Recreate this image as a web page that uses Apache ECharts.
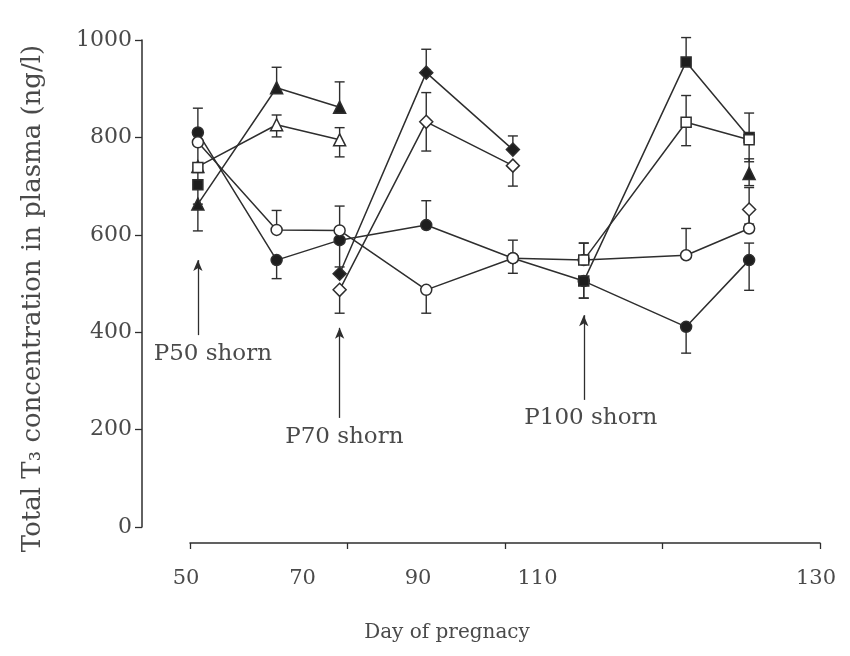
<!DOCTYPE html>
<html>
<head>
<meta charset="utf-8">
<script src="https://cdn.jsdelivr.net/npm/echarts@6/dist/echarts.min.js"></script>
<style>
  html, body { margin: 0; padding: 0; background: #ffffff; }
  #chart { width: 850px; height: 656px; }
</style>
</head>
<body>
<div id="chart"></div>
<script>
// Sampling days (day of pregnancy)
const days = [51, 61, 69, 80, 91, 100, 113, 121];

// Axis tick labels
const xTicks = [50, 70, 90, 110, 130];
const yTicks = [0, 200, 400, 600, 800, 1000];

// Mean total T3 concentration (ng/l) per group; null = not sampled / not connected
const filledCircle   = [810, 548, 589, 620, 552, 505, 411, 548];
const openCircle     = [790, 610, 609, 487, 552, 548, 558, 613];
const filledTriangle = [663, 902, 862, null, null, null, null, 726];
const openTriangle   = [740, 826, 795, null, null, null, null, null];
const filledDiamond  = [null, null, 520, 933, 775, null, null, null];
const openDiamond    = [null, null, 487, 832, 742, null, null, 652];
const filledSquare   = [703, null, null, null, null, 505, 955, 800];
const openSquare     = [738, null, null, null, null, 548, 831, 795];

// Standard error bars as [below, above]
const errFilledCircle   = [[0, 50], [38, 0], [55, 0], [0, 50], [31, 0], [35, 0], [54, 0], [62, 35]];
const errOpenCircle     = [[50, 0], [0, 40], [0, 50], [48, 0], [0, 37], [0, 35], [0, 55], [0, 40]];
const errFilledTriangle = [[55, 0], [0, 42], [0, 52], [0, 0], [0, 0], [0, 0], [0, 0], [25, 30]];
const errOpenTriangle   = [[0, 0], [25, 20], [35, 25], [0, 0], [0, 0], [0, 0], [0, 0], [0, 0]];
const errFilledDiamond  = [[0, 0], [0, 0], [0, 0], [0, 48], [0, 28], [0, 0], [0, 0], [0, 0]];
const errOpenDiamond    = [[0, 0], [0, 0], [48, 0], [60, 60], [42, 0], [0, 0], [0, 0], [30, 45]];
const errFilledSquare   = [[40, 0], [0, 0], [0, 0], [0, 0], [0, 0], [35, 0], [0, 50], [50, 0]];
const errOpenSquare     = [[35, 0], [0, 0], [0, 0], [0, 0], [0, 0], [0, 35], [48, 55], [0, 55]];

// Shearing events: label, arrow day, arrow from/to (ng/l), label anchor [day, ng/l]
const shearLabels = ['P50 shorn', 'P70 shorn', 'P100 shorn'];
const shearDays   = [51, 69, 100];
const shearArrow  = [[394, 548], [224, 409], [261, 435]];
const shearText   = [[52.9, 355], [69.6, 185], [100.9, 224]];

const INK = '#2e2e2e';
const TEXT = '#4a4a4a';
const FONT = '"DejaVu Serif", "Liberation Serif", serif';

const groups = [
  { name: 'filledCircle',   vals: filledCircle,   err: errFilledCircle,   symbol: 'circle',   size: 11, filled: true },
  { name: 'openCircle',     vals: openCircle,     err: errOpenCircle,     symbol: 'circle',   size: 11, filled: false },
  { name: 'filledTriangle', vals: filledTriangle, err: errFilledTriangle, symbol: 'triangle', size: 12, filled: true },
  { name: 'openTriangle',   vals: openTriangle,   err: errOpenTriangle,   symbol: 'triangle', size: 12, filled: false },
  { name: 'filledDiamond',  vals: filledDiamond,  err: errFilledDiamond,  symbol: 'diamond',  size: 13, filled: true },
  { name: 'openDiamond',    vals: openDiamond,    err: errOpenDiamond,    symbol: 'diamond',  size: 13, filled: false },
  { name: 'filledSquare',   vals: filledSquare,   err: errFilledSquare,   symbol: 'rect',     size: 10, filled: true },
  { name: 'openSquare',     vals: openSquare,     err: errOpenSquare,     symbol: 'rect',     size: 10, filled: false }
];

function errorBarItem(params, api) {
  const d = api.value(0), v = api.value(1), dn = api.value(2), up = api.value(3);
  const top = api.coord([d, v + up]);
  const bot = api.coord([d, v - dn]);
  const cap = 5;
  const style = { stroke: INK, lineWidth: 1.4 };
  const children = [{ type: 'line', shape: { x1: top[0], y1: top[1], x2: bot[0], y2: bot[1] }, style }];
  if (up > 0) children.push({ type: 'line', shape: { x1: top[0] - cap, y1: top[1], x2: top[0] + cap, y2: top[1] }, style });
  if (dn > 0) children.push({ type: 'line', shape: { x1: bot[0] - cap, y1: bot[1], x2: bot[0] + cap, y2: bot[1] }, style });
  return { type: 'group', children };
}

const series = [];
groups.forEach(g => {
  const errData = [];
  g.vals.forEach((v, i) => {
    if (v !== null && (g.err[i][0] > 0 || g.err[i][1] > 0)) {
      errData.push([days[i], v, g.err[i][0], g.err[i][1]]);
    }
  });
  series.push({
    name: g.name + 'Err',
    type: 'custom',
    renderItem: errorBarItem,
    data: errData,
    z: 1,
    silent: true
  });
  series.push({
    name: g.name,
    type: 'line',
    data: g.vals.map((v, i) => [days[i], v]),
    connectNulls: false,
    showSymbol: true,
    symbol: g.symbol,
    symbolSize: g.size,
    lineStyle: { color: INK, width: 1.5 },
    itemStyle: {
      color: g.filled ? '#1e1e1e' : '#ffffff',
      borderColor: INK,
      borderWidth: 1.5
    },
    z: 3,
    animation: false
  });
});

// Shearing annotations: arrows and labels drawn in data coordinates
series.push({
  name: 'shearing',
  type: 'line',
  data: [],
  animation: false,
  markLine: {
    silent: true,
    symbol: ['none', 'arrow'],
    symbolSize: [7, 11],
    lineStyle: { color: INK, width: 1.3, type: 'solid' },
    label: { show: false },
    data: shearDays.map((d, i) => [
      { coord: [d, shearArrow[i][0]] },
      { coord: [d, shearArrow[i][1]] }
    ])
  },
  markPoint: {
    silent: true,
    symbol: 'circle',
    symbolSize: 0,
    label: {
      show: true,
      position: 'inside',
      fontFamily: FONT,
      fontSize: 23,
      color: TEXT,
      formatter: p => p.name
    },
    data: shearLabels.map((t, i) => ({ name: t, coord: shearText[i] }))
  }
});

// x labels sit slightly apart from their ticks
const xLabelShift = { 50: 8, 70: 90, 90: 174, 110: 250, 130: 8 };
const rich = {};
xTicks.forEach(t => {
  rich['t' + t] = { fontFamily: FONT, fontSize: 21, color: TEXT, padding: [0, xLabelShift[t], 0, 0] };
});

const chart = echarts.init(document.getElementById('chart'), null, { renderer: 'canvas' });
chart.setOption({
  animation: false,
  backgroundColor: '#ffffff',
  grid: { left: 190, right: 30, top: 40, bottom: 129 },
  xAxis: {
    type: 'value',
    min: 50,
    max: 130,
    interval: 20,
    offset: 16,
    name: 'Day of pregnacy',
    nameLocation: 'middle',
    nameGap: 80,
    nameTextStyle: { fontFamily: FONT, fontSize: 20, color: TEXT, padding: [0, 116, 0, 0] },
    axisLine: { show: true, onZero: false, lineStyle: { color: INK, width: 1.5 } },
    axisTick: { show: true, inside: false, length: 6, lineStyle: { color: INK, width: 1.3 } },
    axisLabel: {
      margin: 25,
      formatter: v => '{t' + v + '|' + v + '}',
      rich
    },
    splitLine: { show: false }
  },
  yAxis: {
    type: 'value',
    min: 0,
    max: 1000,
    interval: 200,
    offset: 48,
    name: 'Total T\u2083 concentration in plasma (ng/l)',
    nameLocation: 'middle',
    nameGap: 96,
    nameTextStyle: { fontFamily: FONT, fontSize: 26, color: TEXT, padding: [0, 30, 0, 0] },
    axisLine: { show: true, lineStyle: { color: INK, width: 1.5 } },
    axisTick: { show: true, inside: false, length: 7, lineStyle: { color: INK, width: 1.3 } },
    axisLabel: {
      margin: 10,
      fontFamily: FONT,
      fontSize: 22,
      color: TEXT,
      formatter: v => String(v)
    },
    splitLine: { show: false }
  },
  series
});
</script>
</body>
</html>
